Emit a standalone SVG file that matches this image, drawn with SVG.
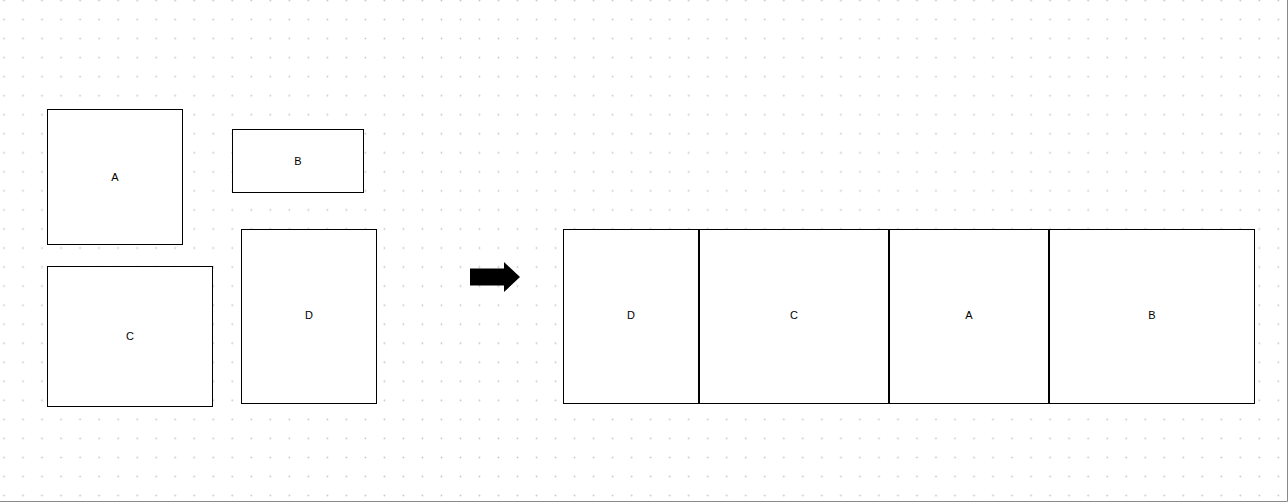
<svg xmlns="http://www.w3.org/2000/svg" width="1288" height="502" viewBox="0 0 1288 502">
  <defs>
    <pattern id="dots" patternUnits="userSpaceOnUse" x="-5" y="-9.5" width="19.02" height="19.04">
      <circle cx="9" cy="10" r="0.9" fill="#c4c4d2"/>
    </pattern>
  </defs>
  <style>
    .box { fill: #ffffff; stroke: #000000; stroke-width: 1; }
    .lbl { font-family: "Liberation Sans", Arial, sans-serif; font-size: 11px; fill: #000000; text-anchor: middle; dominant-baseline: central; }
  </style>
  <rect x="0" y="0" width="1288" height="502" fill="#ffffff"/>
  <rect x="0" y="0" width="1288" height="502" fill="url(#dots)"/>
  <path d="M1287.5,0 V501.5 H0" fill="none" stroke="#8a8a8a" stroke-width="1"/>

  <g id="left-A"><rect class="box" x="47.5" y="109.5" width="135" height="135"/><text class="lbl" x="115" y="177">A</text></g>
  <g id="left-B"><rect class="box" x="232.5" y="129.5" width="131" height="63"/><text class="lbl" x="298" y="161">B</text></g>
  <g id="left-C"><rect class="box" x="47.5" y="266.5" width="165" height="140"/><text class="lbl" x="130" y="336">C</text></g>
  <g id="left-D"><rect class="box" x="241.5" y="229.5" width="135" height="174"/><text class="lbl" x="309" y="315">D</text></g>

  <g id="connectors">
    <polygon points="470,268.5 504,268.5 504,262 520,277 504,292 504,285.5 470,285.5" fill="#000000"/>
  </g>

  <g id="right-D"><rect class="box" x="563.5" y="229.5" width="135" height="174"/><text class="lbl" x="631" y="315">D</text></g>
  <g id="right-C"><rect class="box" x="699.5" y="229.5" width="189" height="174"/><text class="lbl" x="794" y="315">C</text></g>
  <g id="right-A"><rect class="box" x="889.5" y="229.5" width="159" height="174"/><text class="lbl" x="969" y="315">A</text></g>
  <g id="right-B"><rect class="box" x="1049.5" y="229.5" width="205" height="174"/><text class="lbl" x="1152" y="315">B</text></g>
</svg>
